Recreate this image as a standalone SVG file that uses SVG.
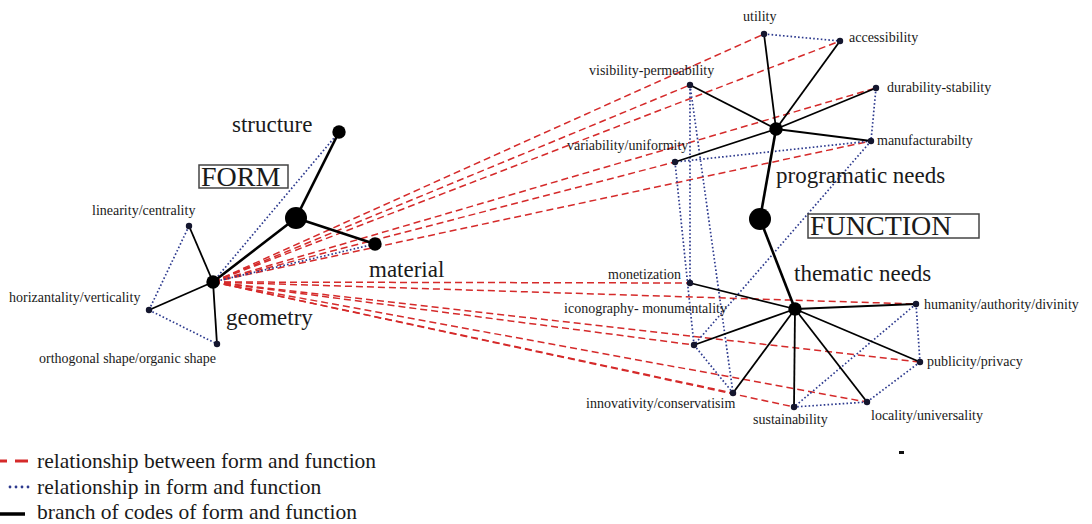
<svg xmlns="http://www.w3.org/2000/svg" width="1092" height="524" viewBox="0 0 1092 524">
<style>
text{font-family:"Liberation Serif","Times New Roman",serif;fill:#1a1a1a}
.sm{font-size:14px}
.big{font-size:23px}
.title{font-size:28px}
.leg{font-size:21.5px}
.red{stroke:#d52a2a;stroke-width:1.5;stroke-dasharray:7 4;fill:none}
.blue{stroke:#2d3a8e;stroke-width:1.7;stroke-dasharray:1.6 2.2;fill:none}
.blk{stroke:#000;stroke-width:1.8;fill:none}
.thk{stroke:#000;stroke-width:2.6;fill:none}
.n{fill:#14162e}
.N{fill:#000}
.box{fill:none;stroke:#444;stroke-width:1.5}
</style>
<rect width="1092" height="524" fill="#fff"/>
<g id="connectors">
<!-- red dashed: form-function relationships from geometry -->
<line class="red" x1="213" y1="282" x2="764" y2="34"/>
<line class="red" x1="213" y1="282" x2="690" y2="85"/>
<line class="red" x1="213" y1="282" x2="840" y2="41"/>
<line class="red" x1="213" y1="282" x2="876" y2="88"/>
<line class="red" x1="213" y1="282" x2="675" y2="162"/>
<line class="red" x1="213" y1="282" x2="871" y2="141"/>
<line class="red" x1="213" y1="282" x2="690" y2="283"/>
<line class="red" x1="213" y1="282" x2="916" y2="304"/>
<line class="red" x1="213" y1="282" x2="694" y2="345"/>
<line class="red" x1="213" y1="282" x2="920" y2="362"/>
<line class="red" x1="213" y1="282" x2="733" y2="393"/>
<line class="red" x1="213" y1="282" x2="794" y2="407"/>
<line class="red" x1="213" y1="282" x2="867" y2="402"/>
<!-- blue dotted -->
<line class="blue" x1="213" y1="282" x2="339" y2="132"/>
<line class="blue" x1="213" y1="282" x2="375" y2="244"/>
<line class="blue" x1="189" y1="226" x2="149" y2="310"/>
<line class="blue" x1="149" y1="310" x2="217" y2="344"/>
<line class="blue" x1="764" y1="34" x2="840" y2="41"/>
<line class="blue" x1="876" y1="88" x2="871" y2="141"/>
<line class="blue" x1="871" y1="141" x2="675" y2="162"/>
<line class="blue" x1="871" y1="141" x2="694" y2="345"/>
<line class="blue" x1="690" y1="85" x2="690" y2="283"/>
<line class="blue" x1="690" y1="85" x2="733" y2="393"/>
<line class="blue" x1="675" y1="162" x2="694" y2="345"/>
<line class="blue" x1="694" y1="345" x2="733" y2="393"/>
<line class="blue" x1="916" y1="304" x2="920" y2="362"/>
<line class="blue" x1="916" y1="304" x2="794" y2="407"/>
<line class="blue" x1="920" y1="362" x2="867" y2="402"/>
<line class="blue" x1="867" y1="402" x2="794" y2="407"/>
<!-- black branches: form -->
<line class="thk" x1="296" y1="218" x2="339" y2="132"/>
<line class="thk" x1="296" y1="218" x2="375" y2="244"/>
<line class="thk" x1="296" y1="218" x2="213" y2="282"/>
<line class="blk" x1="213" y1="282" x2="189" y2="226"/>
<line class="blk" x1="213" y1="282" x2="149" y2="310"/>
<line class="blk" x1="213" y1="282" x2="217" y2="344"/>
<!-- black branches: function -->
<line class="blk" x1="776" y1="129" x2="764" y2="34"/>
<line class="blk" x1="776" y1="129" x2="840" y2="41"/>
<line class="blk" x1="776" y1="129" x2="690" y2="85"/>
<line class="blk" x1="776" y1="129" x2="876" y2="88"/>
<line class="blk" x1="776" y1="129" x2="871" y2="141"/>
<line class="blk" x1="776" y1="129" x2="675" y2="162"/>
<line class="thk" x1="776" y1="129" x2="760" y2="219"/>
<line class="thk" x1="760" y1="219" x2="795" y2="309"/>
<line class="blk" x1="795" y1="309" x2="690" y2="283"/>
<line class="blk" x1="795" y1="309" x2="916" y2="304"/>
<line class="blk" x1="795" y1="309" x2="694" y2="345"/>
<line class="blk" x1="795" y1="309" x2="920" y2="362"/>
<line class="blk" x1="795" y1="309" x2="733" y2="393"/>
<line class="blk" x1="795" y1="309" x2="794" y2="407"/>
<line class="blk" x1="795" y1="309" x2="867" y2="402"/>
</g>
<g id="form">
<rect class="box" x="199" y="165" width="89" height="23"/>
<text class="title" x="201" y="186">FORM</text>
<circle class="N" cx="296" cy="218" r="11"/>
</g>
<g id="structure"><circle class="N" cx="339" cy="132" r="6.7"/><text class="big" x="232" y="132">structure</text></g>
<g id="material"><circle class="N" cx="375" cy="244" r="6.7"/><text class="big" x="369" y="277">material</text></g>
<g id="geometry"><circle class="N" cx="213" cy="282" r="6.7"/><text class="big" x="226" y="325">geometry</text></g>
<g id="linearity"><circle class="n" cx="189" cy="226" r="3.2"/><text class="sm" x="92" y="215">linearity/centrality</text></g>
<g id="horizantality"><circle class="n" cx="149" cy="310" r="3.2"/><text class="sm" x="9" y="302">horizantality/verticality</text></g>
<g id="orthogonal"><circle class="n" cx="217" cy="344" r="3.2"/><text class="sm" x="39" y="363">orthogonal shape/organic shape</text></g>
<g id="function">
<rect class="box" x="808" y="214" width="171" height="24"/>
<text class="title" x="810" y="235">FUNCTION</text>
<circle class="N" cx="760" cy="219" r="11"/>
</g>
<g id="programatic"><circle class="N" cx="776" cy="129" r="6.7"/><text class="big" x="776" y="183">programatic needs</text></g>
<g id="thematic"><circle class="N" cx="795" cy="309" r="6.7"/><text class="big" x="794" y="281">thematic needs</text></g>
<g id="utility"><circle class="n" cx="764" cy="34" r="3.2"/><text class="sm" x="743" y="21">utility</text></g>
<g id="accessibility"><circle class="n" cx="840" cy="41" r="3.2"/><text class="sm" x="849" y="42">accessibility</text></g>
<g id="visibility"><circle class="n" cx="690" cy="85" r="3.2"/><text class="sm" x="589" y="75">visibility-permeability</text></g>
<g id="durability"><circle class="n" cx="876" cy="88" r="3.2"/><text class="sm" x="887" y="92">durability-stability</text></g>
<g id="manufacturabilty"><circle class="n" cx="871" cy="141" r="3.2"/><text class="sm" x="877" y="145">manufacturabilty</text></g>
<g id="variability"><circle class="n" cx="675" cy="162" r="3.2"/><text class="sm" x="567" y="150">variability/uniformity</text></g>
<g id="monetization"><circle class="n" cx="690" cy="283" r="3.2"/><text class="sm" x="608" y="279">monetization</text></g>
<g id="humanity"><circle class="n" cx="916" cy="304" r="3.2"/><text class="sm" x="924" y="309">humanity/authority/divinity</text></g>
<g id="iconography"><circle class="n" cx="694" cy="345" r="3.2"/><text class="sm" x="727" y="313" text-anchor="end">iconography- monumentality</text></g>
<g id="publicity"><circle class="n" cx="920" cy="362" r="3.2"/><text class="sm" x="927" y="366">publicity/privacy</text></g>
<g id="innovativity"><circle class="n" cx="733" cy="393" r="3.2"/><text class="sm" x="586" y="408">innovativity/conservatisim</text></g>
<g id="sustainability"><circle class="n" cx="794" cy="407" r="3.2"/><text class="sm" x="753" y="424">sustainability</text></g>
<g id="locality"><circle class="n" cx="867" cy="402" r="3.2"/><text class="sm" x="871" y="420">locality/universality</text></g>
<rect x="899" y="451" width="5" height="3" fill="#111"/>
<g id="legend">
<path d="M0 461H7M15 461H28" stroke="#d52a2a" stroke-width="3"/>
<circle cx="10" cy="487" r="1.4" fill="#2d3a8e"/>
<circle cx="16" cy="487" r="1.4" fill="#2d3a8e"/>
<circle cx="22" cy="487" r="1.4" fill="#2d3a8e"/>
<circle cx="28" cy="487" r="1.4" fill="#2d3a8e"/>
<line x1="0" y1="514" x2="25" y2="514" stroke="#000" stroke-width="3.5"/>
<text class="leg" x="37" y="468">relationship between form and function</text>
<text class="leg" x="37" y="494">relationship in form and function</text>
<text class="leg" x="37" y="519">branch of codes of form and function</text>
</g>
</svg>
